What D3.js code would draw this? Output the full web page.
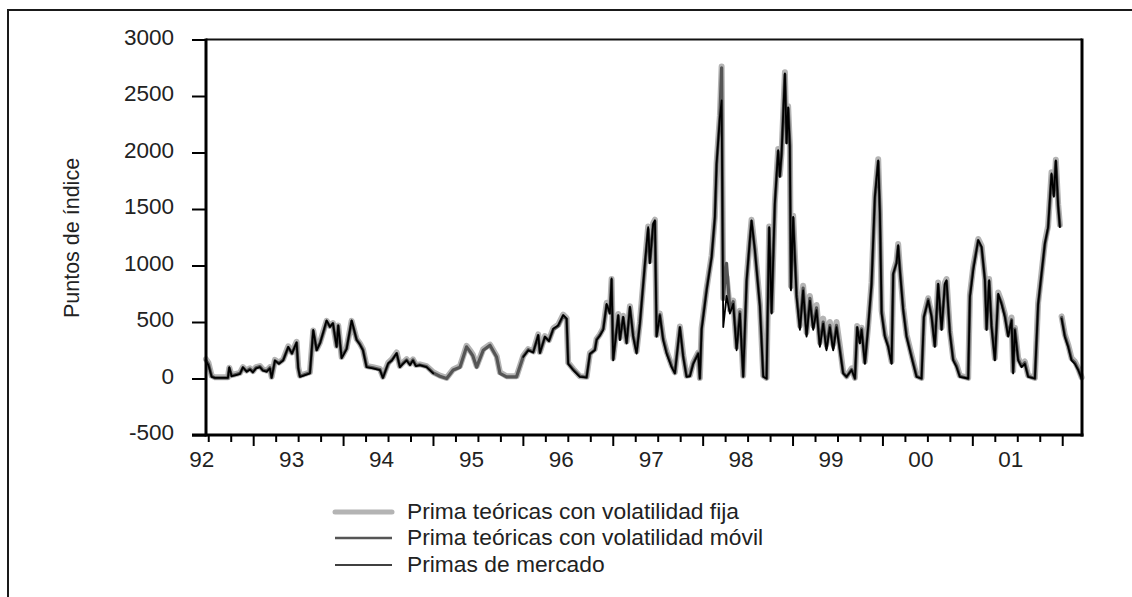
<!DOCTYPE html>
<html><head><meta charset="utf-8">
<script src="https://cdn.jsdelivr.net/npm/d3@7"></script>
<style>
html,body{margin:0;padding:0;background:#fff;}
svg{display:block;font-family:"Liberation Sans",Arial,sans-serif;}
</style></head>
<body>
<svg id="c" width="1132" height="597"></svg>
<script>
// decimal-year dates (null-gap entry at 2001.484)
const dates = [
1991.975,1992.002,1992.038,1992.075,1992.152,1992.219,1992.234,1992.260,1992.308,1992.353,
1992.386,1992.427,1992.464,1992.497,1992.531,1992.575,1992.608,1992.650,1992.686,1992.705,
1992.742,1992.786,1992.834,1992.890,1992.931,1992.983,1993.001,1993.020,1993.076,1993.131,
1993.168,1993.206,1993.243,1993.276,1993.317,1993.354,1993.387,1993.428,1993.446,1993.484,
1993.539,1993.595,1993.651,1993.687,1993.721,1993.762,1993.832,1993.910,1993.943,1994.002,
1994.043,1994.096,1994.132,1994.166,1994.207,1994.244,1994.277,1994.310,1994.355,1994.429,
1994.503,1994.577,1994.652,1994.725,1994.800,1994.874,1994.911,1994.944,1994.986,1995.059,
1995.134,1995.208,1995.245,1995.319,1995.430,1995.504,1995.560,1995.615,1995.671,1995.690,
1995.745,1995.790,1995.838,1995.893,1995.949,1995.987,1996.004,1996.060,1996.134,1996.209,
1996.246,1996.301,1996.320,1996.357,1996.394,1996.432,1996.468,1996.487,1996.505,1996.561,
1996.580,1996.616,1996.654,1996.691,1996.727,1996.765,1996.802,1996.858,1996.894,1996.913,
1996.950,1996.969,1996.988,1997.024,1997.061,1997.099,1997.155,1997.191,1997.247,1997.284,
1997.321,1997.358,1997.395,1997.451,1997.469,1997.488,1997.544,1997.600,1997.636,1997.655,
1997.692,1997.711,1997.729,1997.766,1997.803,1997.840,1997.878,1997.914,1997.951,1997.989,
1998.025,1998.044,1998.081,1998.137,1998.174,1998.211,1998.240,1998.267,1998.303,1998.340,
1998.359,1998.378,1998.415,1998.434,1998.451,1998.470,1998.482,1998.507,1998.545,1998.582,
1998.618,1998.656,1998.693,1998.730,1998.767,1998.804,1998.841,1998.877,1998.915,1998.952,
1998.989,1999.026,1999.063,1999.101,1999.157,1999.194,1999.219,1999.249,1999.268,1999.305,
1999.341,1999.379,1999.416,1999.453,1999.472,1999.491,1999.527,1999.564,1999.602,1999.620,
1999.657,1999.675,1999.694,1999.731,1999.768,1999.805,1999.842,1999.880,1999.935,1999.961,
2000.009,2000.047,2000.083,2000.120,2000.158,2000.195,2000.213,2000.250,2000.287,2000.325,
2000.361,2000.454,2000.473,2000.510,2000.565,2000.603,2000.640,2000.659,2000.687,2000.714,
2000.751,2000.788,2000.825,2000.862,2000.899,2000.937,2000.954,2000.973,2001.010,2001.048,
2001.084,2001.121,2001.196,2001.232,2001.270,2001.307,2001.343,2001.381,2001.407,2001.429,
2001.455,2001.474,2001.484,2001.493,2001.529,2001.566,2001.604,2001.641,2001.678,2001.716
];

// Prima teóricas con volatilidad fija
const fija = [
170,140,25,10,10,10,95,30,40,50,
100,70,90,65,100,110,80,70,100,15,
165,140,170,285,230,325,100,25,40,55,
425,260,320,405,510,465,490,290,470,190,
270,510,350,310,260,110,100,85,15,140,
170,230,110,140,170,130,170,120,125,110,
55,25,5,80,110,290,250,210,110,260,
300,200,55,20,20,200,260,240,390,235,
375,340,445,475,565,535,140,85,20,15,
225,260,350,390,445,670,590,880,180,570,
360,555,325,640,385,240,500,1030,1345,1040,
1375,1405,385,575,355,240,115,55,460,205,
25,30,140,230,5,445,795,1090,1435,1905,
2330,2760,710,900,610,690,280,600,25,880,
1235,1405,1150,660,25,5,1345,600,1560,2030,
1800,2000,2710,2100,2410,2070,820,1440,760,470,
820,410,730,470,650,320,530,300,500,300,
500,290,60,20,90,5,465,330,450,150,
465,850,1620,1940,1480,600,390,300,150,940,
1040,1190,980,630,390,270,150,25,5,555,
710,565,300,850,450,850,880,420,180,120,
25,5,740,990,1235,1175,890,450,880,480,
180,760,680,570,390,540,70,450,180,120,
150,25,5,670,940,1205,1350,1825,1625,1935,
1540,1360,null,550,390,300,180,150,90,10
];

// Prima teóricas con volatilidad móvil
const movil = [
160,130,20,5,5,5,90,25,35,45,
95,65,85,60,95,105,75,65,95,10,
155,135,165,275,225,315,95,20,35,50,
420,255,315,395,505,460,485,285,465,185,
265,505,345,305,255,105,95,80,10,130,
165,220,105,135,165,125,165,115,120,105,
50,20,0,75,100,280,240,200,100,250,
295,190,45,15,15,195,255,235,380,230,
365,335,435,465,555,525,135,80,20,10,
215,255,345,385,440,650,580,870,175,555,
350,540,320,625,380,235,490,1010,1320,1030,
1360,1390,380,565,350,235,110,50,450,200,
20,25,135,225,0,440,790,1080,1420,1890,
2320,2750,700,1020,600,680,270,590,20,860,
1220,1390,1140,650,20,0,1330,590,1540,2010,
1790,1985,2690,2090,2390,2060,800,1420,740,450,
800,390,710,450,625,300,500,270,470,270,
470,265,50,15,80,0,450,320,440,140,
450,830,1600,1920,1470,590,380,290,140,920,
1030,1170,970,615,380,260,140,20,0,540,
700,555,290,830,440,830,860,410,170,110,
20,0,730,980,1220,1160,880,440,860,470,
170,740,670,560,380,520,60,440,170,110,
140,20,0,650,920,1190,1330,1800,1620,1920,
1530,1350,null,540,380,290,170,140,80,0
];

// Primas de mercado
const mercado = [
150,120,15,5,5,5,100,20,30,40,
100,60,80,55,90,100,70,60,90,5,
160,130,160,280,220,320,90,15,30,45,
430,250,310,400,515,457,490,280,470,180,
260,515,340,300,250,100,90,75,5,135,
160,225,100,130,160,120,160,110,118,100,
45,null,null,null,null,null,null,null,null,null,
null,null,null,null,null,190,250,230,385,225,
370,330,440,470,560,530,130,75,15,10,
220,250,340,380,430,660,575,885,160,560,
340,545,310,635,370,220,485,1020,1340,1020,
1370,1400,370,560,340,220,100,45,455,190,
15,20,130,220,0,430,780,1075,1430,1900,
2315,2460,455,730,575,660,250,575,15,870,
1225,1400,1135,635,15,0,1340,575,1550,2020,
1785,1990,2700,2080,2400,2050,780,1430,720,430,
780,370,690,430,605,280,485,250,455,250,
455,250,45,15,75,0,455,310,430,130,
455,840,1610,1930,1460,575,370,280,130,930,
1020,1180,960,605,370,250,130,15,0,545,
690,545,280,840,430,840,870,400,160,100,
15,0,720,960,1225,1165,870,430,870,455,
160,750,660,545,370,515,45,430,160,100,
130,15,0,660,930,1195,1340,1815,1610,1930,
1520,1340,null,530,370,280,160,130,75,0
];

const yTicks = [-500,0,500,1000,1500,2000,2500,3000];
const yearLabels = [1992,1993,1994,1995,1996,1997,1998,1999,2000,2001];
const seriesNames = ["Prima teóricas con volatilidad fija","Prima teóricas con volatilidad móvil","Primas de mercado"];
const yTitle = "Puntos de índice";

const svg = d3.select("#c");
const L = 206, R = 1082, T = 39.5, B = 435;
const x = d3.scaleLinear().domain([1991.975, 2001.72]).range([L, R]);
const y = d3.scaleLinear().domain([-500, 3000]).range([B, T]);
const font = '"Liberation Sans", Arial, sans-serif';

// outer frame
svg.append("rect").attr("x",8).attr("y",10).attr("width",1200).attr("height",700)
  .attr("fill","none").attr("stroke","#1a1a1a").attr("stroke-width",2);

// series
const styles = [
  {data: fija, color:"#b4b4b4", w:6},
  {data: movil, color:"#555555", w:3.2},
  {data: mercado, color:"#000000", w:1.8}
];
const g = svg.append("g");
styles.forEach(s => {
  const pts = dates.map((d,i)=>[d, s.data[i]]);
  const line = d3.line().defined(p => p[1] != null).x(p=>x(p[0])).y(p=>y(p[1]));
  g.append("path").attr("d", line(pts)).attr("fill","none")
   .attr("stroke", s.color).attr("stroke-width", s.w)
   .attr("stroke-linejoin","round").attr("stroke-linecap","round");
});

// y axis
const ya = svg.append("g").attr("transform",`translate(${L},0)`)
  .call(d3.axisLeft(y).tickValues(yTicks).tickSize(14).tickPadding(18).tickFormat(d => String(d)));
ya.select(".domain").remove();
ya.selectAll("line").attr("stroke","#000").attr("stroke-width",2);
ya.selectAll("text").attr("font-family",font).attr("font-size",22.5).attr("fill","#222").attr("dy","0.2em");

// x ticks: quarterly short, mid-year long
const quarters = [];
for (let yr = 1992; yr <= 2001; yr++) for (let q = 0; q < 4; q++) { const v = yr + q*0.25; if (v <= 2001.72) quarters.push(v); }
const xa = svg.append("g").attr("transform",`translate(0,${B+1})`)
  .call(d3.axisBottom(x).tickValues(quarters).tickSize(5).tickFormat(""));
xa.select(".domain").remove();
xa.selectAll(".tick line").attr("stroke","#000").attr("stroke-width",2)
  .attr("y2", d => (Math.abs(d % 1 - 0.5) < 1e-6) ? 10 : 6);
const xl = svg.append("g").attr("transform",`translate(0,${B})`)
  .call(d3.axisBottom(x).tickValues(yearLabels).tickSize(0).tickPadding(16)
        .tickFormat(d => String(d).slice(2)));
xl.select(".domain").remove();
xl.selectAll("text").attr("font-family",font).attr("font-size",22.5).attr("fill","#222").attr("dx",-7);

// plot frame
svg.append("line").attr("x1",L).attr("x2",R).attr("y1",T).attr("y2",T).attr("stroke","#111").attr("stroke-width",2);
svg.append("line").attr("x1",L).attr("x2",L).attr("y1",T-1).attr("y2",B+1.5).attr("stroke","#000").attr("stroke-width",3);
svg.append("line").attr("x1",R).attr("x2",R).attr("y1",T-1).attr("y2",B+1.5).attr("stroke","#000").attr("stroke-width",3);
svg.append("line").attr("x1",192).attr("x2",R+1.5).attr("y1",B).attr("y2",B).attr("stroke","#000").attr("stroke-width",3);

// y title
svg.append("text").attr("transform","translate(79,238) rotate(-90)")
  .attr("text-anchor","middle").attr("font-family",font).attr("font-size",21.5).attr("fill","#222")
  .text(yTitle);

// legend
const leg = svg.append("g");
const legY = [512, 538, 565];
styles.forEach((s,i) => {
  leg.append("line").attr("x1",335).attr("x2",392).attr("y1",legY[i]).attr("y2",legY[i])
    .attr("stroke",s.color).attr("stroke-width", i===0?5:(i===1?2.5:1.5)).attr("stroke-linecap", i===0?"round":"butt");
  leg.append("text").attr("x",407).attr("y",legY[i]+6.5).attr("font-family",font).attr("font-size",22.8)
    .attr("fill","#222").text(seriesNames[i]);
});
</script>
</body></html>
